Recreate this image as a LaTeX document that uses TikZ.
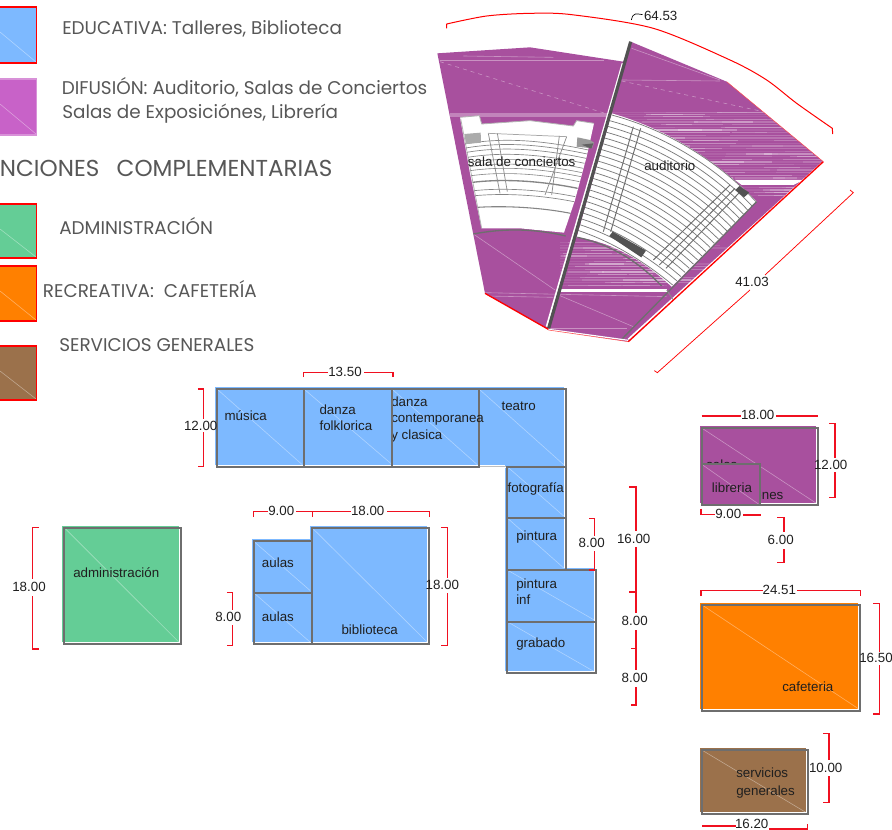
\documentclass[tikz,border=0pt]{standalone}
\usepackage{fontspec}
\setmainfont{Liberation Sans}
\newfontfamily\legendfont{Poppins}
\definecolor{cblue}{HTML}{7DB9FF}
\definecolor{cpurple}{HTML}{A8509E}
\definecolor{clegp}{HTML}{C862C8}
\definecolor{cgreen}{HTML}{64CD96}
\definecolor{corange}{HTML}{FF8000}
\definecolor{cbrown}{HTML}{9B714B}
\definecolor{cline}{HTML}{6E6E6E}
\definecolor{cdim}{HTML}{F01020}
\tikzset{
  lab/.style={anchor=base west,inner sep=0pt,font=\fontsize{10}{12}\selectfont,text=black!88},
  dimtext/.style={inner sep=0pt,font=\fontsize{10}{12}\selectfont,text=black!88},
  legendtext/.style={anchor=base west,inner sep=0pt,font=\legendfont\fontsize{13.8}{16}\selectfont,text=black!66},
  dimline/.style={draw=cdim,line width=.9pt},
  hallrow/.style={draw=black!52,line width=.55pt},
  hairline/.style={draw=white,opacity=.38,line width=.45pt},
  wallline/.style={draw=black!68,line width=2.4pt},
}
\newcommand\roomfill[5]{%
  \fill[#5] ({#1-2},{#2-2}) rectangle ({#3-2},{#4-2});
  \draw[hairline] (#1,#2) -- ({#3-2},{#4-2});
}
\newcommand\roomline[4]{\draw[cline,line width=1.4pt] (#1,#2) rectangle (#3,#4);}
\newcommand\hd[6]{% x1 x2 y gap1 gap2 tick
  \draw[dimline] (#1,{#3+#6}) -- (#1,#3) -- (#4,#3);
  \draw[dimline] (#5,#3) -- (#2,#3) -- (#2,{#3+#6});
}
\newcommand\vd[6]{% y1 y2 x gap1 gap2 tick
  \draw[dimline] ({#3-#6},#1) -- (#3,#1) -- (#3,#4);
  \draw[dimline] (#3,#5) -- (#3,#2) -- ({#3-#6},#2);
}
\newcommand\swatch[4]{% y1 y2 colour border
  \fill[#3] (-1,#1) rectangle (36.5,#2);
  \draw[hairline] (0,{#1+25}) -- (36,{#2-1});
  \draw[#4,line width=.9pt] (-1,#1) rectangle (36.5,#2);
}
\newcommand\streaks[4]{% x1 x2 y list, strength
  \foreach \yy in {#3} {
    \foreach \kk in {1,2,3} {
      \pgfmathrandominteger{\ra}{#1}{#2}
      \pgfmathrandominteger{\rb}{60}{260}
      \pgfmathrandominteger{\rc}{8}{#4}
      \pgfmathsetmacro\rd{\rc/100}
      \draw[white,opacity=\rd,line width=1.2pt] (\ra,\yy) -- ({\ra+\rb},\yy);
    }
    \draw[white,opacity=.1,line width=1pt] (#1,\yy) -- (#2,\yy);
  }
}
\begin{document}
\begin{tikzpicture}[x=.75pt,y=-.75pt]
\pgfmathsetseed{11}
\useasboundingbox (0,0) rectangle (892,830);
\clip (0,0) rectangle (892,830);
% legend
\swatch{7}{63}{cblue}{red}
\swatch{79}{135}{clegp}{clegp!70!white}
\swatch{204}{258}{cgreen}{red}
\swatch{266}{321}{corange}{red}
\swatch{346}{400}{cbrown}{red}
\node[legendtext] (l1) at (62,35) {EDUCATIVA: Talleres, Biblioteca};
\node[legendtext] (l2) at (61.5,95) {DIFUSIÓN: Auditorio, Salas de Conciertos};
\node[legendtext] (l3) at (62,119) {Salas de Exposiciónes, Librería};
\node[legendtext,anchor=base east,font=\legendfont\fontsize{17.3}{20}\selectfont] (l4) at (332.7,176.7) {NCIONES\ \ \hspace{3.8pt}COMPLEMENTARIAS};
\node[legendtext] (l5) at (59,235) {ADMINISTRACIÓN};
\node[legendtext] (l6) at (42.7,297.7) {RECREATIVA:\ \ CAFETERÍA};
\node[legendtext] (l7) at (59,351.7) {SERVICIOS GENERALES};
% auditorium block, coordinates at three times the size
\begin{scope}[shift={(420,0)},scale=1/3]
  \fill[cpurple] (52,160) -- (330,142) -- (610,185) -- (632,125) -- (920,245) -- (1210,485) -- (625,1025) -- (385,988) -- (195,880) -- cycle;
  \begin{scope}
    \clip (52,160) -- (330,142) -- (610,185) -- (632,125) -- (920,245) -- (1210,485) -- (625,1025) -- (385,988) -- (195,880) -- cycle;
    \streaks{570}{1215}{338,344,350,358,366,374,382,390,398,406,414,422,430,438,446,454,462,470,478,486,494,502,510,518,526,534}{30}
    \streaks{420}{740}{728,736,744,752,760,768,776,784,792,800,808,816,824,832,840,848,856}{30}
    \foreach \yy in {342,348}
      \draw[white,opacity=.3,line width=.8pt] (90,\yy) -- (560,\yy);
    \streaks{960}{1125}{562,570,578,586}{26}
    \draw[hairline] (60,182) -- (552,182);
    \draw[hairline] (130,168) -- (400,172);
    \draw[hairline,dashed] (60,185) -- (555,340);
    \draw[hairline] (635,145) -- (900,240);
    \draw[hairline] (605,240) -- (900,243);
    \draw[hairline,dashed] (605,243) -- (1030,335);
    \draw[hairline] (160,702) -- (405,870);
    \draw[hairline] (195,878) -- (740,890);
    \draw[hairline] (195,888) -- (400,892);
    \draw[hairline] (415,885) -- (640,980);
    \draw[hairline] (390,985) -- (620,985);
    \fill[white] (945,540) -- (1150,540) -- (1120,555) -- (965,555) -- cycle;
  \end{scope}
  % sala de conciertos
  \fill[white] (120,352) -- (178,347) -- (185,372) -- (330,362) -- (460,378) -- (470,362) -- (522,370) -- (500,470) -- (465,600) -- (432,698) -- (300,685) -- (185,685) -- (150,520) -- cycle;
  \draw[black!30,line width=.6pt] (120,352) -- (178,347) -- (185,372) -- (330,362) -- (460,378) -- (470,362) -- (522,370);
  \draw[black!30,line width=.6pt] (122,356) -- (185,685);
  \foreach \dd/\ww in {0/.5,12/.5,25/.5,40/.5,55/.45,68/.45,80/.45,95/.45,115/1,140/.5,155/.5,190/.8} {
    \pgfmathsetmacro\xa{135+.2*\dd}
    \pgfmathsetmacro\ya{432+\dd}
    \pgfmathsetmacro\yb{415+1.07*\dd}
    \pgfmathsetmacro\xc{505-.28*\dd}
    \pgfmathsetmacro\yc{450+\dd}
    \draw[black!48,line width=\ww pt] (\xa,\ya) .. controls (230,\yb) and (340,\yb) .. (\xc,\yc);
  }
  \draw[black!35,line width=.55pt] (205,400) -- (440,410);
  \draw[black!45,line width=.55pt] (205,400) -- (240,580);
  \draw[black!45,line width=.55pt] (232,400) -- (262,575);
  \draw[black!45,line width=.55pt] (440,410) -- (375,585);
  \draw[black!45,line width=.55pt] (418,408) -- (395,585);
  \fill[black!33] (133,402) -- (182,398) -- (183,428) -- (138,432) -- cycle;
  \fill[black!40] (472,412) -- (510,420) -- (522,428) -- (516,445) -- (470,440) -- cycle;
  \fill[black!62] (485,434) -- (520,430) -- (514,446) -- cycle;
  \draw[cline,line width=1pt] (160,702) .. controls (250,685) and (340,685) .. (437,708);
  % auditorio
  \fill[white] (575,340) .. controls (750,390) and (900,490) .. (1010,605) -- (755,860) .. controls (680,790) and (580,725) .. (470,712) -- cycle;
  \foreach \ii in {0,...,20} {
    \pgfmathsetmacro\tt{\ii/20}
    \pgfmathsetmacro\sx{575-105*\tt}
    \pgfmathsetmacro\sy{345+345*\tt}
    \pgfmathsetmacro\ax{750-170*\tt}
    \pgfmathsetmacro\ay{392+333*\tt}
    \pgfmathsetmacro\bx{900-220*\tt}
    \pgfmathsetmacro\by{490+300*\tt}
    \pgfmathsetmacro\ex{1008-250*\tt}
    \pgfmathsetmacro\ey{605+250*\tt}
    \draw[hallrow] (\sx,\sy) .. controls (\ax,\ay) and (\bx,\by) .. (\ex,\ey);
  }
  \draw[cline,line width=.7pt] (640,380) -- (550,695);
  \draw[cline,line width=.7pt] (662,385) -- (572,695);
  \draw[cline,line width=.7pt] (930,555) -- (700,780);
  \draw[cline,line width=.7pt] (945,565) -- (718,795);
  \draw[cline,line width=.7pt] (958,578) -- (738,805);
  \fill[black!68] (578,695) -- (678,752) -- (664,772) -- (568,708) -- cycle;
  \fill[black!68] (958,558) -- (988,578) -- (972,592) -- (946,570) -- cycle;
  \draw[cline,line width=1pt] (472,712) .. controls (580,735) and (660,790) .. (725,858);
  % band, walls and edges
  \fill[cpurple] (415,858) rectangle (740,868);
  \fill[white] (415,868) rectangle (740,875);
  \draw[white,line width=1.5pt] (608,190) -- (380,980);
  \draw[wallline] (632,125) -- (386,985);
  \draw[white,line width=1.3pt] (1205,490) -- (625,1018);
  \draw[cline,line width=1pt] (1010,605) -- (605,1018);
  \draw[black!45,line width=.6pt] (740,870) -- (760,900);
  \draw[white,line width=.9pt] (385,988) -- (625,1021);
  \draw[red!70!white,line width=.4pt] (385,990) -- (625,1025);
  \draw[red,line width=1pt] (1210,485) -- (625,1025);
  \draw[red,line width=1pt] (195,880) -- (385,988);
  \draw[red!70,line width=.35pt] (920,245) -- (1210,485);
  % dimensions of the block
  \draw[red,line width=.75pt] (80,85) -- (80,72) plot[smooth] coordinates {(80,72) (200,48) (330,40) (455,44) (700,85) (930,180) (1040,240) (1130,310) (1237,385)} -- (1238,402);
  \draw[red,line width=.55pt] (1290,570) -- (1300,578) -- (1035,825);
  \draw[red,line width=.55pt] (990,870) -- (712,1118) -- (703,1112);
  \draw[black,line width=.5pt] (634,60) .. controls (640,35) and (650,42) .. (668,44);
\end{scope}
\node[dimtext] (d6453) at (660.7,15.7) {64.53};
\node[dimtext] (d4103) at (752,281.6) {41.03};
\node[lab] (tsala) at (467.7,166.7) {sala de conciertos};
\node[lab] (taudi) at (644,170.7) {auditorio};
% workshop rooms, right to left so that the text is cut as printed
\roomfill{479.3}{389.3}{565.7}{466.7}{cblue}
\roomfill{507.3}{466.7}{565.7}{518}{cblue}
\roomfill{507.3}{518}{565.7}{570}{cblue}
\roomfill{507.3}{570}{595.7}{621.7}{cblue}
\roomfill{507.3}{621.7}{595.7}{673.3}{cblue}
\roomline{479.3}{389.3}{565.7}{466.7}
\fill[cblue] (477.3,462) rectangle (505.3,464.7);
\draw[white,line width=1.6pt] (479.3,466.7) -- (506.3,466.7);
\draw[black!25,line width=.8pt] (479.3,466.7) -- (507.3,466.7);
\roomline{507.3}{466.7}{565.7}{518}
\roomline{507.3}{518}{565.7}{570}
\roomline{507.3}{570}{595.7}{621.7}
\roomline{507.3}{621.7}{595.7}{673.3}
\roomfill{392.3}{389.3}{479.3}{466.7}{cblue}
\roomline{392.3}{389.3}{479.3}{466.7}
\node[lab] (tdc1) at (391,406.7) {danza};
\node[lab] (tdc2) at (391,422.7) {contemporanea};
\node[lab] (tdc3) at (391,439.3) {y clasica};
\roomfill{304.3}{389.3}{394.3}{466.7}{cblue}
\roomline{304.3}{389.3}{392.3}{466.7}
\roomfill{217.3}{389.3}{304.3}{466.7}{cblue}
\roomline{217.3}{389.3}{304.3}{466.7}
\draw[cline,line width=1.4pt] (304.3,389.3) -- (304.3,466.7);
\node[lab] (tmus) at (224.3,420) {música};
\node[lab] (tdf1) at (319.3,414.3) {danza};
\node[lab] (tdf2) at (319.3,430.3) {folklorica};
\node[lab] (ttea) at (501.3,411) {teatro};
\node[lab] (tfot) at (507.3,492) {fotografía};
\node[lab] (tpin) at (516,540) {pintura};
\node[lab] (tpi1) at (516,588.3) {pintura};
\node[lab] (tpi2) at (516,604) {inf};
\node[lab] (tgra) at (516,647.7) {grabado};
% aulas and biblioteca
\roomfill{253.7}{541.3}{312.3}{592.7}{cblue}
\roomfill{253.7}{592.7}{312.3}{644.3}{cblue}
\roomfill{312.3}{528}{429.3}{644.3}{cblue}
\roomline{253.7}{541.3}{312.3}{592.7}
\roomline{253.7}{592.7}{312.3}{644.3}
\roomline{312.3}{528}{429.3}{644.3}
\node[lab] (tau1) at (261.7,567.3) {aulas};
\node[lab] (tau2) at (261.7,621.3) {aulas};
\node[lab] (tbib) at (341.3,634) {biblioteca};
% administración
\roomfill{64.3}{527.7}{181}{644.3}{cgreen}
\roomline{64.3}{527.7}{181}{644.3}
\node[lab] (tadm) at (73,577) {administración};
% salas and libreria
\roomfill{701.7}{428}{818.3}{505.3}{cpurple}
\roomline{701.7}{428}{818.3}{505.3}
\node[lab] (tsa1) at (706,469) {salas};
\node[lab] (tsa2) at (706,499.3) {exposiciones};
\fill[cpurple] (701.7,464.3) rectangle (760.3,505.3);
\draw[hairline] (701.7,464.3) -- (760.3,505.3);
\roomline{701.7}{464.3}{760.3}{505.3}
\node[lab] (tlib) at (711.7,492) {libreria};
% cafeteria and servicios
\roomfill{701.7}{604.7}{860.3}{710.7}{corange}
\roomline{701.7}{604.7}{860.3}{710.7}
\node[lab] (tcaf) at (782,691) {cafeteria};
\roomfill{702.3}{750.3}{807.7}{814.3}{cbrown}
\roomline{702.3}{750.3}{807.7}{814.3}
\node[lab] (tse1) at (736,777.7) {servicios};
\node[lab] (tse2) at (736,795) {generales};
% dimensions
\hd{303.7}{393}{372.7}{328}{364}{4.5}
\node[dimtext] (d1350) at (345,371.7) {13.50};
\vd{389}{466.7}{203.3}{419}{432}{5.5}
\node[dimtext] (d1200a) at (200.7,425.7) {12.00};
\hd{253.7}{312.3}{511.7}{268}{296}{5}
\node[dimtext] (d900a) at (281.3,510.7) {9.00};
\hd{312.3}{429.3}{511.7}{351}{387}{5}
\node[dimtext] (d1800a) at (367.7,510.7) {18.00};
\vd{527.7}{645.3}{447.7}{578}{593}{6.5}
\node[dimtext] (d1800b) at (442.3,585.3) {18.00};
\vd{592.7}{645.3}{232.3}{610}{625}{5.5}
\node[dimtext] (d800a) at (228.3,617.3) {8.00};
\vd{518.7}{570}{594.7}{536}{551}{5.5}
\node[dimtext] (d800b) at (591.7,543.3) {8.00};
\draw[cdim,line width=1.4pt] (629.3,486.7) -- (636,486.7) -- (636,531);
\draw[cdim,line width=1.4pt] (636,547) -- (636,592.3) -- (629.3,592.3);
\node[dimtext] (d1600) at (633.7,539.3) {16.00};
\draw[dimline] (636,592.3) -- (636,613);
\draw[dimline] (636,630) -- (636,648.7) -- (630.7,648.7);
\node[dimtext] (d800c) at (634.7,621.3) {8.00};
\draw[dimline] (636,648.7) -- (636,670);
\draw[dimline] (636,687) -- (636,705) -- (630.7,705);
\node[dimtext] (d800d) at (634.7,678.3) {8.00};
\vd{527.3}{649}{32.3}{579}{596}{-6.7}
\node[dimtext] (d1800c) at (29,587.3) {18.00};
\draw[dimline] (701.7,416) -- (741,416);
\draw[dimline] (776,416) -- (818.3,416);
\node[dimtext] (d1800d) at (757.7,415.3) {18.00};
\vd{423.7}{497.3}{835}{458}{472}{6}
\node[dimtext] (d1200b) at (830.7,464.7) {12.00};
\draw[dimline] (701,508.5) -- (701,514.7) -- (715,514.7);
\draw[cdim,line width=1.6pt] (743,514.7) -- (761,514.7);
\node[dimtext] (d900b) at (728.3,514) {9.00};
\vd{517.3}{562.3}{784}{532}{549}{6.7}
\node[dimtext] (d600) at (780.7,540.3) {6.00};
\hd{701}{860.7}{590.7}{763}{797}{5.3}
\node[dimtext] (d2451) at (779.3,589.7) {24.51};
\vd{603.3}{714}{879.3}{652}{665}{6}
\node[dimtext] (d1650) at (876,658.3) {16.50};
\vd{733.3}{802.3}{829}{760}{776}{5.7}
\node[dimtext] (d1000) at (825.7,768.3) {10.00};
\draw[dimline] (702.3,826) -- (736,826);
\draw[dimline] (769,829) -- (807.7,829) -- (807.7,824);
\node[dimtext] (d1620) at (751.7,823.7) {16.20};
\end{tikzpicture}
\end{document}
